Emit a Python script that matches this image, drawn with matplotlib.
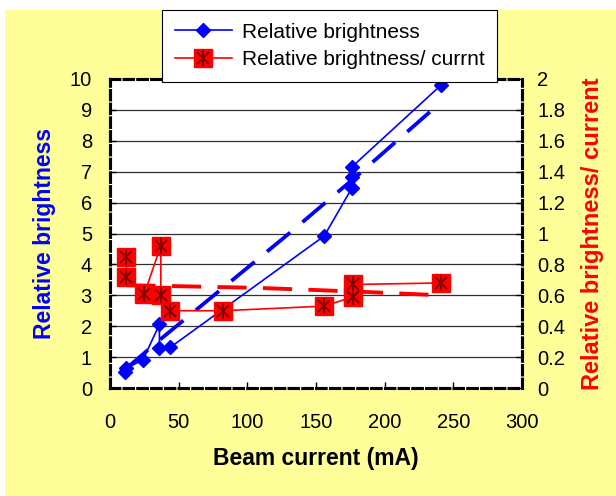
import matplotlib
matplotlib.use("Agg")
import matplotlib.pyplot as plt
from matplotlib.lines import Line2D
from matplotlib.patches import Rectangle
from matplotlib.legend_handler import HandlerTuple

plt.rcParams['font.family'] = ['Liberation Sans', 'DejaVu Sans']

# relative brightness vs beam current (left axis)
current_b = [11, 12, 24, 36, 36, 44, 156, 176, 176, 176, 241]
brightness = [0.53, 0.64, 0.91, 2.06, 1.28, 1.32, 4.92, 6.46, 6.84, 7.15, 9.8]

# relative brightness / current (right axis)
current_r = [12, 12, 25, 37, 37, 44, 82, 156, 177, 177, 241]
ratio = [0.85, 0.72, 0.61, 0.92, 0.60, 0.50, 0.50, 0.53, 0.59, 0.67, 0.68]

# dashed trend lines
trend_b_x = [11, 36, 132, 182, 241]
trend_b_y = [0.6, 1.55, 5.06, 6.95, 9.25]
trend_r_x = [12, 44, 108, 150, 190, 241]
trend_r_y = [0.665, 0.66, 0.648, 0.634, 0.62, 0.60]

x_ticks = [0, 50, 100, 150, 200, 250, 300]
left_ticks = list(range(0, 11))
right_ticks = [0, 0.2, 0.4, 0.6, 0.8, 1, 1.2, 1.4, 1.6, 1.8, 2]
right_labels = ["0", "0.2", "0.4", "0.6", "0.8", "1", "1.2", "1.4", "1.6", "1.8", "2"]

BLUE = "#0000FF"
RED = "#FF0000"
DARKRED = "#7A0000"

W, H = 616, 496
fig = plt.figure(figsize=(W / 100, H / 100), dpi=100)
fig.patch.set_facecolor("white")
fig.add_artist(Rectangle((5 / W, 0), 1, (H - 10) / H, transform=fig.transFigure,
                         facecolor="#FFFF99", edgecolor="none", zorder=-10))

ax = fig.add_axes([110 / W, (H - 388) / H, 412 / W, 309 / H])
ax.set_facecolor("white")
ax2 = ax.twinx()

ax.set_xlim(0, 300)
ax.set_ylim(0, 10)
ax2.set_ylim(0, 2)

for y in left_ticks[1:-1]:
    ax.axhline(y, color="#303030", lw=0.9, zorder=0.5)

ax.plot(trend_b_x, trend_b_y, color=BLUE, lw=2.7, dashes=(8, 4.3), zorder=2)
ax.plot(current_b, brightness, color=BLUE, lw=1.2, marker="D", ms=7.5,
        mfc=BLUE, mec=BLUE, zorder=3)

ax2.plot(trend_r_x, trend_r_y, color=RED, lw=2.8, dashes=(7.5, 4.2), zorder=2)
ax2.plot(current_r, ratio, color=RED, lw=1.2, zorder=3)
ax2.plot(current_r, ratio, ls="none", marker="s", ms=13, mfc=RED, mec=RED, zorder=4)
ax2.plot(current_r, ratio, ls="none", marker="x", ms=8, mec=DARKRED, mew=1.3, zorder=5)
ax2.plot(current_r, ratio, ls="none", marker="|", ms=11, mec=DARKRED, mew=1.3, zorder=5)

ax.set_xticks(x_ticks)
ax.set_yticks(left_ticks)
ax2.set_yticks(right_ticks)
ax2.set_yticklabels(right_labels)

ax.tick_params(axis="x", direction="in", length=4, width=1, pad=18, labelsize=14.5)
ax.tick_params(axis="y", direction="in", length=4, width=1, pad=13, labelsize=14.5)
ax2.tick_params(axis="y", direction="in", length=4, width=1, pad=11, labelsize=14.5)

for a in (ax, ax2):
    for s in a.spines.values():
        s.set_linestyle((0, (3, 1.5)))
        s.set_linewidth(2.2)
        s.set_color("black")

ax.set_xlabel("Beam current (mA)", fontsize=16.5, fontweight="bold")
ax.xaxis.set_label_coords(0.5, -0.19)
ax.set_ylabel("Relative brightness", fontsize=16.5, fontweight="bold", color=BLUE)
ax.yaxis.set_label_coords(-0.131, 0.5)
ax2.set_ylabel("Relative brightness/ current", fontsize=17, fontweight="bold", color=RED)
ax2.yaxis.set_label_coords(1.144, 0.5)

h_blue = Line2D([], [], color=BLUE, lw=1.2, marker="D", ms=7.5, mfc=BLUE, mec=BLUE)
h_red = (Line2D([], [], color=RED, lw=1.2, marker="s", ms=13, mfc=RED, mec=RED),
         Line2D([], [], ls="none", marker="x", ms=8, mec=DARKRED, mew=1.3),
         Line2D([], [], ls="none", marker="|", ms=11, mec=DARKRED, mew=1.3))
leg = fig.legend([h_blue, h_red],
                 ["Relative brightness", "Relative brightness/ currnt"],
                 handler_map={tuple: HandlerTuple(ndivide=1)},
                 loc="upper left", bbox_to_anchor=(162 / W, (H - 10) / H),
                 fontsize=15, handlelength=2.75, handletextpad=0.5,
                 borderpad=0.6, labelspacing=0.42, fancybox=False,
                 framealpha=1, edgecolor="black", borderaxespad=0)
leg.get_frame().set_linewidth(0.8)

fig.savefig("out.png", dpi=100, facecolor=fig.get_facecolor())
